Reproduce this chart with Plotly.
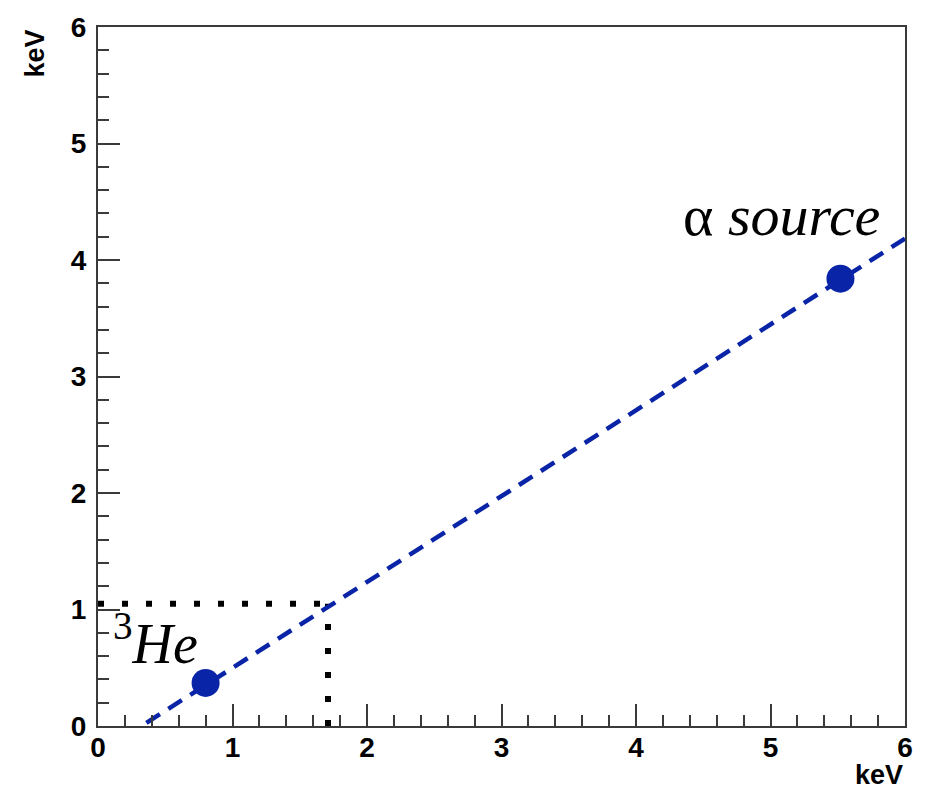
import numpy as np
import plotly.graph_objects as go

# Calibration points (reconstructed energy vs. reference energy, keV)
point_labels = ["3He", "alpha source"]
point_x = [0.80, 5.52]
point_y = [0.37, 3.84]

# Linear calibration fit: y = slope * x + offset, drawn over its x-range
fit_slope = 0.737
fit_offset = -0.238
fit_range = [0.36, 6.0]

# Read-off guide: 1.05 keV on the vertical axis maps to 1.71 keV
guide_x = 1.71
guide_y = 1.05

axis_range = [0, 6]
tick_vals = [0, 1, 2, 3, 4, 5, 6]
tick_text = ["0", "1", "2", "3", "4", "5", "6"]

BLUE = "#0a24a8"
AXIS = "#3a3a3a"

fit_x = np.array(fit_range)
fit_y = fit_slope * fit_x + fit_offset

fig = go.Figure()

# dotted guide lines
fig.add_trace(go.Scatter(
    x=[0, guide_x], y=[guide_y, guide_y], mode="lines",
    line=dict(color="black", width=6, dash="6px,18px"),
    hoverinfo="skip", showlegend=False))
fig.add_trace(go.Scatter(
    x=[guide_x, guide_x], y=[0, guide_y], mode="lines",
    line=dict(color="black", width=6, dash="6px,18px"),
    hoverinfo="skip", showlegend=False))

# dashed calibration fit
fig.add_trace(go.Scatter(
    x=fit_x, y=fit_y, mode="lines",
    line=dict(color=BLUE, width=4.5, dash="16px,10px"),
    hoverinfo="skip", showlegend=False))

# measured points
fig.add_trace(go.Scatter(
    x=point_x, y=point_y, mode="markers", text=point_labels,
    marker=dict(color=BLUE, size=28, line=dict(width=0)),
    showlegend=False))

axis_common = dict(
    range=axis_range, tickvals=tick_vals, ticktext=tick_text,
    showgrid=False, zeroline=False,
    showline=True, linecolor=AXIS, linewidth=2, mirror=True,
    ticks="inside", ticklen=22, tickwidth=1.5, tickcolor=AXIS,
    minor=dict(ticks="inside", ticklen=11, tickwidth=1.5, tickcolor=AXIS,
               dtick=0.2, showgrid=False),
    tickfont=dict(family="Liberation Sans, Arial, sans-serif", size=28,
                  color="black", weight="bold"),
    fixedrange=True,
)

fig.update_xaxes(**axis_common, ticklabelstandoff=-5)
fig.update_yaxes(**axis_common, ticklabelstandoff=4)

title_font = dict(family="Liberation Sans, Arial, sans-serif", size=27,
                  color="black", weight="bold")

annotations = [
    # axis titles
    dict(text="keV", xref="paper", yref="paper", x=-0.078, y=0.962,
         textangle=-90, showarrow=False, xanchor="center", yanchor="middle",
         font=title_font),
    dict(text="keV", xref="paper", yref="paper", x=1.0, y=-0.095,
         showarrow=False, xanchor="right", yanchor="bottom", font=title_font),
    # point labels
    dict(text="<sup>3</sup><i>He</i>", x=0.10, y=0.74, xref="x", yref="y",
         showarrow=False, xanchor="left", yanchor="middle",
         font=dict(family="Liberation Serif, Times New Roman, serif",
                   size=56, color="black")),
    dict(text="\u03b1 <i>source</i>", x=5.83, y=4.38, xref="x", yref="y",
         showarrow=False, xanchor="right", yanchor="middle",
         font=dict(family="Liberation Serif, Times New Roman, serif",
                   size=58, color="black")),
]

fig.update_layout(
    width=930, height=793,
    margin=dict(l=98, r=25, t=22, b=67),
    paper_bgcolor="white", plot_bgcolor="white",
    annotations=annotations,
    showlegend=False,
)

fig.write_html("out.html")
